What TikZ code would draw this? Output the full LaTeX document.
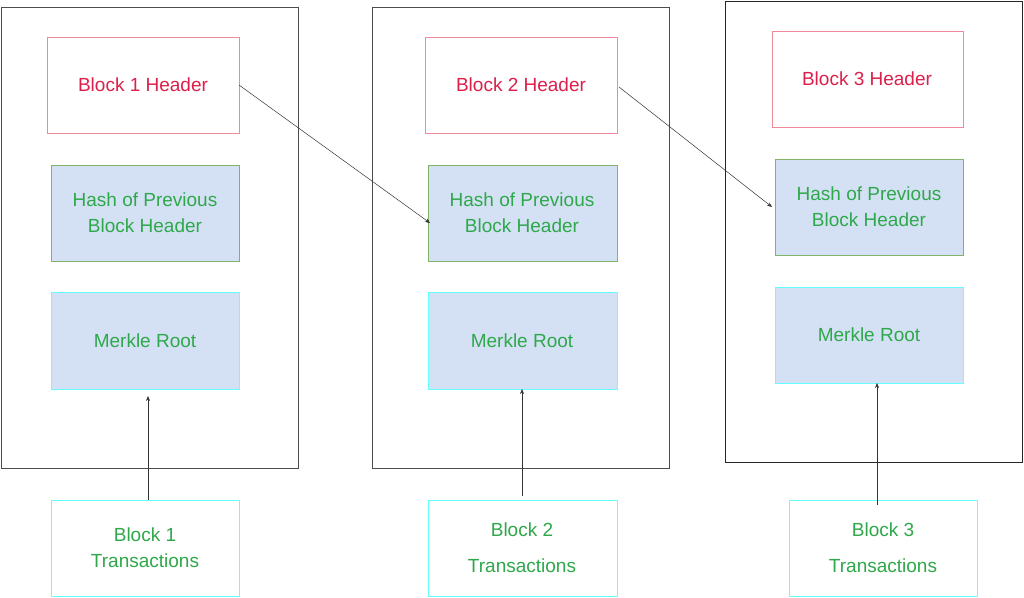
\documentclass[tikz,border=0pt]{standalone}
\usepackage{fontspec}
\setmainfont{Liberation Sans}
\usetikzlibrary{arrows.meta}
\definecolor{tred}{HTML}{DC1F4B}
\definecolor{tgreen}{HTML}{2EA84A}
\definecolor{bfill}{HTML}{D4E1F5}
\definecolor{bred}{HTML}{F08A9A}
\definecolor{bgreen}{HTML}{82B366}
\definecolor{bcyan}{HTML}{66FFFF}
\begin{document}
\begin{tikzpicture}[x=1pt,y=-1pt,
  outer/.style={draw=black!70,line width=0.6pt},
  lab/.style={font=\fontsize{19}{26}\selectfont,align=center},
  hdr/.style={draw=bred,fill=white,line width=0.7pt},
  hsh/.style={draw=bgreen,fill=bfill,line width=0.7pt},
  mrk/.style={draw=bcyan,fill=bfill,line width=0.7pt},
  trx/.style={draw=bcyan,fill=white,line width=0.7pt},
  rt/.style={lab,text=tred},
  gt/.style={lab,text=tgreen},
  arr/.style={-{Stealth[length=5pt,width=4pt]},black!80,line width=0.5pt}]
\useasboundingbox (0,0) rectangle (1024,597);
\fill[white] (0,0) rectangle (1024,597);
\draw[outer] (1,7) rectangle (298,468);
\draw[outer] (372,7) rectangle (669,468);
\draw[outer,draw=black!85] (725,1) rectangle (1022,462);
% block 1
\draw[hdr] (47,37) rectangle (239,133);
\node[rt] (h1) at (143,85) {Block 1 Header};
\draw[hsh] (51,165) rectangle (239,261);
\node[gt] (p1) at (145,213) {Hash of Previous\\Block Header};
\draw[mrk] (51,292) rectangle (239,389);
\node[gt] (m1) at (145,341) {Merkle Root};
\draw[trx] (51,500) rectangle (239,596);
\node[gt] (t1) at (145,548) {Block 1\\Transactions};
% block 2
\draw[hdr] (425,37) rectangle (617,133);
\node[rt] (h2) at (521,85) {Block 2 Header};
\draw[hsh] (428,165) rectangle (617,261);
\node[gt] (p2) at (522,213) {Hash of Previous\\Block Header};
\draw[mrk] (428,292) rectangle (617,389);
\node[gt] (m2) at (522,341) {Merkle Root};
\draw[trx] (428,500) rectangle (617,596);
\node[gt] (t2) at (522,548) {Block 2\\[10pt]Transactions};
% block 3
\draw[hdr] (772,31) rectangle (963,127);
\node[rt] (h3) at (867,79) {Block 3 Header};
\draw[hsh] (775,159) rectangle (963,255);
\node[gt] (p3) at (869,207) {Hash of Previous\\Block Header};
\draw[mrk] (775,287) rectangle (963,383);
\node[gt] (m3) at (869,335) {Merkle Root};
\draw[trx] (789,500) rectangle (977,596);
\node[gt] (t3) at (883,548) {Block 3\\[10pt]Transactions};
% connectors
\coordinate (a1s) at (239,85); \coordinate (a1e) at (430,223);
\coordinate (a2s) at (619,87); \coordinate (a2e) at (772,207);
\draw[arr] (a1s) -- (a1e);
\draw[arr] (a2s) -- (a2e);
\coordinate (u1s) at (148,500); \coordinate (u1e) at (148,396);
\coordinate (u2s) at (522,496); \coordinate (u2e) at (522,389);
\coordinate (u3s) at (877,505); \coordinate (u3e) at (877,383);
\draw[arr] (u1s) -- (u1e);
\draw[arr] (u2s) -- (u2e);
\draw[arr] (u3s) -- (u3e);
\end{tikzpicture}
\end{document}
